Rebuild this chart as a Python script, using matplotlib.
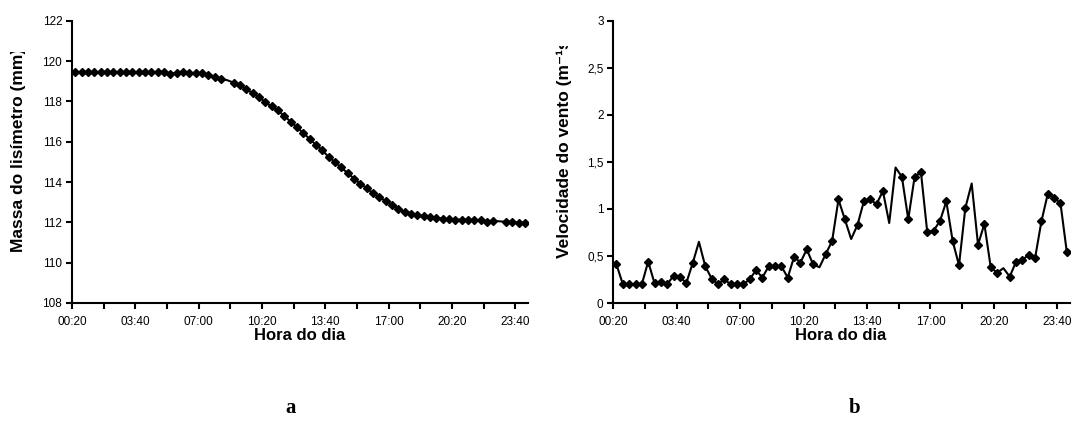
import matplotlib
matplotlib.use("Agg")
import matplotlib.pyplot as plt
from matplotlib.transforms import Bbox, TransformedBbox

plt.rcParams['font.family'] = ['Liberation Sans', 'DejaVu Sans']

# readings every 20 min, 00:20 .. 24:00 (72 points)
massa = [119.45, 119.45, 119.45, 119.45, 119.45, 119.45, 119.45, 119.45,
         119.45, 119.45, 119.45, 119.45, 119.45, 119.45, 119.44, 119.37,
         119.42, 119.44, 119.40, 119.40, 119.40, 119.33, 119.22, 119.12,
         119.05, 118.93, 118.80, 118.60, 118.42, 118.24, 117.95, 117.75,
         117.55, 117.28, 117.00, 116.72, 116.43, 116.15, 115.85, 115.58,
         115.25, 115.00, 114.72, 114.45, 114.17, 113.92, 113.70, 113.45,
         113.24, 113.07, 112.88, 112.68, 112.50, 112.40, 112.36, 112.30,
         112.27, 112.22, 112.18, 112.15, 112.14, 112.13, 112.12, 112.12,
         112.10, 112.04, 112.08, 112.05, 112.03, 112.02, 111.98, 111.97]

vento = [0.41, 0.20, 0.20, 0.20, 0.20, 0.44, 0.21, 0.22, 0.20, 0.29,
         0.28, 0.21, 0.42, 0.65, 0.39, 0.26, 0.20, 0.25, 0.20, 0.20,
         0.20, 0.25, 0.35, 0.27, 0.39, 0.39, 0.39, 0.27, 0.49, 0.43,
         0.57, 0.41, 0.38, 0.52, 0.66, 1.10, 0.89, 0.68, 0.83, 1.08,
         1.10, 1.05, 1.19, 0.85, 1.44, 1.34, 0.89, 1.34, 1.39, 0.75,
         0.77, 0.87, 1.08, 0.66, 0.40, 1.01, 1.27, 0.62, 0.84, 0.38,
         0.32, 0.37, 0.28, 0.44, 0.46, 0.51, 0.48, 0.87, 1.16, 1.12,
         1.06, 0.54]

# points drawn without a marker in the original
massa_sem_marca = [24, 67]
vento_sem_marca = [13, 32, 37, 43, 44, 56, 61]

hora_labels = ["00:20", "03:40", "07:00", "10:20", "13:40", "17:00", "20:20", "23:40"]
massa_ticks = [108, 110, 112, 114, 116, 118, 120, 122]
vento_ticks = [0, 0.5, 1, 1.5, 2, 2.5, 3]
vento_tick_labels = ["0", "0,5", "1", "1,5", "2", "2,5", "3"]

W, H = 1078, 423
fig = plt.figure(figsize=(W / 100, H / 100), dpi=100)


def px(x0, y0, x1, y1):
    return [x0 / W, 1 - y1 / H, (x1 - x0) / W, (y1 - y0) / H]


def style_axes(ax):
    n = len(massa)
    ax.set_xlim(-0.5, n - 0.5)
    ax.set_xticks([-0.5 + 10 * k for k in range(len(hora_labels))])
    ax.set_xticklabels(hora_labels)
    ax.set_xticks([-0.5 + 5 * k for k in range(15)], minor=True)
    for s in ("top", "right"):
        ax.spines[s].set_visible(False)
    for s in ("left", "bottom"):
        ax.spines[s].set_linewidth(1.5)
    ax.tick_params(which="both", direction="out", length=4, width=1.5,
                   labelsize=8.5, pad=3)
    ax.tick_params(axis="x", which="both", pad=5)


def ylabel(x, y0, y_clip, text):
    # the original axis titles are cut off near the top of the plot
    t = fig.text(x / W, 1 - y0 / H, text, rotation=90, ha="center", va="bottom",
                 fontsize=12.5, fontweight="bold")
    t.set_clip_box(TransformedBbox(Bbox([[0, 0], [1, 1 - y_clip / H]]), fig.transFigure))
    t.set_clip_on(True)


def xlabel(x, text):
    fig.text(x / W, 1 - 335 / H, text, ha="center", va="center",
             fontsize=12, fontweight="bold")


# a) lysimeter mass
ax1 = fig.add_axes(px(72, 20.7, 528, 303))
idx = list(range(len(massa)))
ax1.plot(idx, massa, color="black", lw=1.5, marker="D", ms=4.5,
         markevery=[i for i in idx if i not in massa_sem_marca])
style_axes(ax1)
ax1.set_ylim(108, 122)
ax1.set_yticks(massa_ticks)
ylabel(19, 252, 52, "Massa do lisímetro (mm)")
xlabel(300, "Hora do dia")
fig.text(291 / W, 1 - 413 / H, "a", ha="center", va="baseline",
         fontsize=15, fontweight="bold", family="Liberation Serif")

# b) wind speed
ax2 = fig.add_axes(px(613.3, 20.7, 1070, 303))
ax2.plot(idx, vento, color="black", lw=1.5, marker="D", ms=4.5,
         markevery=[i for i in idx if i not in vento_sem_marca])
style_axes(ax2)
ax2.set_ylim(0, 3)
ax2.set_yticks(vento_ticks)
ax2.set_yticklabels(vento_tick_labels)
ylabel(564, 258, 46, "Velocidade do vento (m⁻¹s)")
xlabel(841, "Hora do dia")
fig.text(855 / W, 1 - 413 / H, "b", ha="center", va="baseline",
         fontsize=15, fontweight="bold", family="Liberation Serif")

fig.savefig("out.png", dpi=100)
